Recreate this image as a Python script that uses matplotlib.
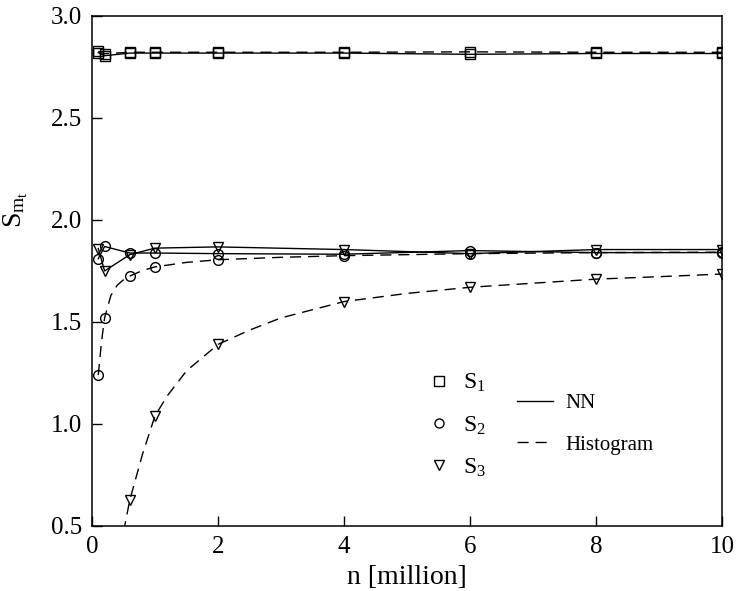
import matplotlib
matplotlib.use('Agg')
import matplotlib.pyplot as plt
from matplotlib.lines import Line2D

# Sample sizes (million) where the estimates were computed
n_values = [0.1, 0.2, 0.6, 1, 2, 4, 6, 8, 10]

# NN estimates
nn_s1 = [2.82, 2.805, 2.818, 2.818, 2.818, 2.818, 2.812, 2.816, 2.816]
nn_s2 = [1.81, 1.87, 1.838, 1.838, 1.835, 1.832, 1.85, 1.84, 1.84]
nn_s3 = [1.86, 1.75, 1.83, 1.862, 1.868, 1.855, 1.835, 1.855, 1.855]

# Histogram estimates (markers)
hist_s1 = [2.826, 2.815, 2.822, 2.822, 2.822, 2.822, 2.824, 2.822, 2.822]
hist_s2 = [1.24, 1.52, 1.725, 1.77, 1.805, 1.825, 1.835, 1.84, 1.842]
hist_s3_n = [0.6, 1, 2, 4, 6, 8, 10]
hist_s3 = [0.627, 1.04, 1.39, 1.60, 1.67, 1.71, 1.735]

# Dashed histogram curves
curve_s2_n = [0.1, 0.15, 0.2, 0.3, 0.4, 0.5, 0.6, 0.8, 1, 1.5, 2, 3, 4, 6, 8, 10]
curve_s2 = [1.24, 1.40, 1.52, 1.63, 1.68, 1.707, 1.725, 1.752, 1.77, 1.792, 1.805, 1.817, 1.825, 1.835, 1.84, 1.842]
curve_s3_n = [0.5, 0.6, 0.8, 1.0, 1.2, 1.5, 2, 2.5, 3, 4, 5, 6, 7, 8, 9, 10]
curve_s3 = [0.47, 0.627, 0.85, 1.04, 1.14, 1.26, 1.39, 1.46, 1.52, 1.60, 1.64, 1.67, 1.69, 1.71, 1.722, 1.735]

plt.rcParams['font.family'] = 'Liberation Serif'
plt.rcParams['mathtext.fontset'] = 'custom'
plt.rcParams['mathtext.rm'] = 'Liberation Serif'
plt.rcParams['mathtext.it'] = 'Liberation Serif'

fig = plt.figure(figsize=(7.4, 5.91), dpi=100)
ax = fig.add_axes([0.1243, 0.11, 0.8514, 0.863])

mk = dict(mfc='none', mec='black', mew=1.0, markersize=7, color='black')
dash = (0, (8, 5))

# NN: solid lines with markers
ax.plot(n_values, nn_s1, marker='s', lw=1.0, **mk)
ax.plot(n_values, nn_s2, marker='o', lw=1.0, **mk)
ax.plot(n_values, nn_s3, marker='v', lw=1.0, **mk)

# Histogram: dashed curves + markers
ax.plot(n_values, hist_s1, color='black', lw=1.0, linestyle=dash)
ax.plot(curve_s2_n, curve_s2, color='black', lw=1.0, linestyle=dash)
ax.plot(curve_s3_n, curve_s3, color='black', lw=1.0, linestyle=dash)
ax.plot(n_values, hist_s1, marker='s', linestyle='none', **mk)
ax.plot(n_values, hist_s2, marker='o', linestyle='none', **mk)
ax.plot(hist_s3_n, hist_s3, marker='v', linestyle='none', **mk)

ax.set_xlim(0, 10)
ax.set_ylim(0.5, 3.0)
ax.set_xticks([0, 2, 4, 6, 8, 10])
ax.set_yticks([0.5, 1.0, 1.5, 2.0, 2.5, 3.0])
ax.set_yticklabels(['0.5', '1.0', '1.5', '2.0', '2.5', '3.0'])
ax.tick_params(direction='in', length=7, width=1.0, labelsize=18, pad=7)
for s in ax.spines.values():
    s.set_linewidth(1.1)

ax.set_xlabel('n [million]', fontsize=20, labelpad=5)
ax.set_ylabel(r'$\mathrm{S}_{\mathrm{m}_\mathrm{t}}$', fontsize=20)
ax.yaxis.set_label_coords(-0.098, 0.62)

# Legend for the markers
marker_handles = [
    Line2D([], [], marker='s', linestyle='none', mfc='none', mec='black', markersize=6.5),
    Line2D([], [], marker='o', linestyle='none', mfc='none', mec='black', markersize=6.5),
    Line2D([], [], marker='v', linestyle='none', mfc='none', mec='black', markersize=6.5),
]
leg1 = ax.legend(marker_handles, [r'$\mathrm{S}_1$', r'$\mathrm{S}_2$', r'$\mathrm{S}_3$'],
                 loc='upper left', bbox_to_anchor=(0.532, 0.302), frameon=False,
                 fontsize=17, handlelength=1, handletextpad=0.5, labelspacing=0.85,
                 borderpad=0, borderaxespad=0)
ax.add_artist(leg1)

# Legend for the methods
line_handles = [
    Line2D([], [], color='black', lw=1.0),
    Line2D([], [], color='black', lw=1.0, linestyle=dash),
]
ax.legend(line_handles, ['NN', 'Histogram'], loc='upper left',
          bbox_to_anchor=(0.675, 0.259), frameon=False, fontsize=15,
          handlelength=1.7, handletextpad=0.6, labelspacing=1.04,
          borderpad=0, borderaxespad=0)

plt.savefig('out.png', dpi=100)
